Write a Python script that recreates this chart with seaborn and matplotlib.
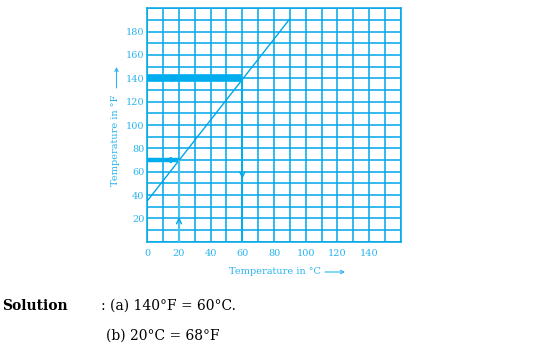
import numpy as np
import pandas as pd
import matplotlib
matplotlib.use("Agg")
import matplotlib.pyplot as plt
import seaborn as sns

# ---- data ----
celsius = [0, 90]
fahrenheit = [35, 191]
x_ticks = [0, 20, 40, 60, 80, 100, 120, 140]
y_ticks = [20, 40, 60, 80, 100, 120, 140, 160, 180]
# reading (a): 140 F -> 60 C ; reading (b): 20 C -> 68 F
read_a_f, read_a_c = 140, 60
read_b_c, read_b_f = 20, 70
# arrow heads: (x, y, dx, dy)
arrow_x = [19, 11, 60, 20]
arrow_y = [140, 70, 54, 21]
arrow_dx = [1, -1, 0, 0]
arrow_dy = [0, 0, -1, 1]

sns.set_theme(style="white")
plt.rcParams["font.family"] = ["DejaVu Serif", "DejaVu Sans"]

CY = "#00a6e8"
CY2 = "#00aeef"
TXT = "#2ab4ee"

W, H = 542, 350
fig = plt.figure(figsize=(5.42, 3.5), dpi=100)
ax = fig.add_axes([0.2718, 0.3094, 0.4675, 0.6669])

df = pd.DataFrame({"C": celsius, "F": fahrenheit})
sns.lineplot(data=df, x="C", y="F", ax=ax, color=CY, lw=1.0)

ax.hlines(read_a_f, 0, read_a_c, color=CY2, lw=5.5, zorder=3)
ax.vlines(read_a_c, 0, read_a_f, color=CY2, lw=1.4, zorder=3)
ax.hlines(read_b_f, 0, read_b_c, color=CY2, lw=3.2, zorder=3)
ax.vlines(read_b_c, 0, read_b_f, color="#4cc0f0", lw=1.6, zorder=3)

for x, y, dx, dy in zip(arrow_x, arrow_y, arrow_dx, arrow_dy):
    ax.annotate("", xy=(x, y), xytext=(x - dx * 2, y - dy * 2),
                arrowprops=dict(arrowstyle="->", color=CY, lw=1.0,
                                mutation_scale=9, shrinkA=0, shrinkB=0),
                zorder=4)

ax.set_xlim(0, 160)
ax.set_ylim(0, 200)
ax.set_xticks(x_ticks)
ax.set_xticklabels([str(v) for v in x_ticks])
ax.set_yticks(y_ticks)
ax.set_yticklabels([str(v) for v in y_ticks])
ax.set_xticks(np.arange(0, 161, 10), minor=True)
ax.set_yticks(np.arange(0, 201, 10), minor=True)
ax.grid(True, which="both", color=CY, lw=1.1)
ax.set_axisbelow(True)
ax.tick_params(which="both", length=0, colors=TXT, labelsize=7)
ax.tick_params(axis="x", pad=5)
ax.tick_params(axis="y", pad=2)
for s in ax.spines.values():
    s.set_color(CY)
    s.set_linewidth(1.1)
ax.set_xlabel("")
ax.set_ylabel("")

# axis titles with long arrows
fig.text(274.5 / W, 1 - 272 / H, "Temperature in °C",
         color=TXT, fontsize=7, ha="center", va="center")
fig.text(116 / W, 1 - 140 / H, "Temperature in °F",
         color=TXT, fontsize=7, ha="center", va="center", rotation=90)
arrow_kw = dict(arrowstyle="->", color=TXT, lw=0.8, mutation_scale=6,
                shrinkA=0, shrinkB=0)
fig.add_artist(matplotlib.patches.FancyArrowPatch(
    (325 / W, 1 - 272 / H), (345 / W, 1 - 272 / H),
    transform=fig.transFigure, **arrow_kw))
fig.add_artist(matplotlib.patches.FancyArrowPatch(
    (116.5 / W, 1 - 88 / H), (116.5 / W, 1 - 67 / H),
    transform=fig.transFigure, **arrow_kw))

fig.text(2 / W, 1 - 306 / H, "Solution", color="black", fontsize=10,
         fontweight="bold", ha="left", va="center")
fig.text(101 / W, 1 - 306 / H, ": (a) 140°F = 60°C.", color="black",
         fontsize=10, ha="left", va="center")
fig.text(106 / W, 1 - 336 / H, "(b) 20°C = 68°F", color="black",
         fontsize=10, ha="left", va="center")

fig.savefig("out.png", dpi=100, facecolor="white")
